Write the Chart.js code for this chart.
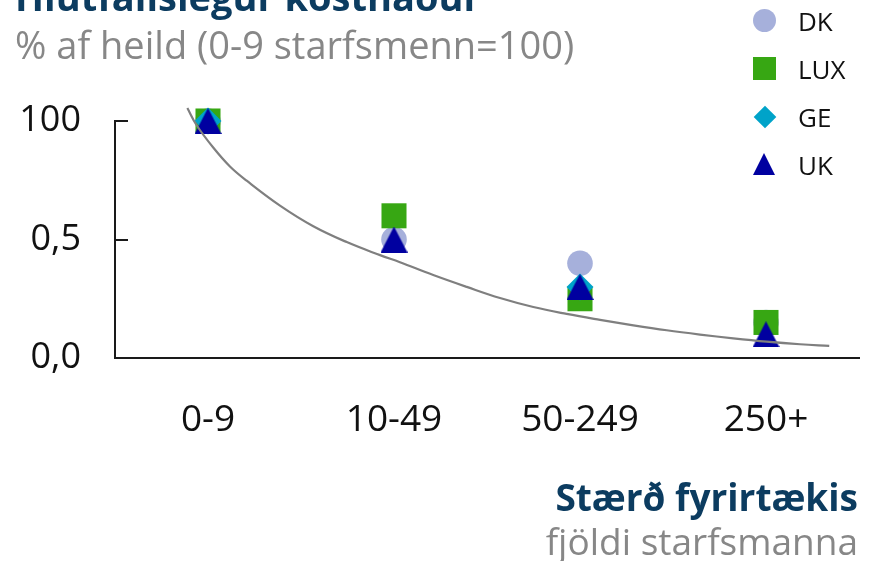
<!DOCTYPE html>
<html>
<head>
<meta charset="utf-8">
<script src="https://cdn.jsdelivr.net/npm/chart.js@4.4.1/dist/chart.umd.min.js"></script>
<style>
  body { margin: 0; background: #fff; font-family: "Open Sans", sans-serif; }
  #page { position: relative; width: 869px; height: 561px; overflow: hidden; }
  #page canvas { position: absolute; left: 0; top: 0; }
  .txt { position: absolute; white-space: nowrap; line-height: 1; }
  .title { font-weight: 700; color: #0c3c60; }
  .sub { color: #878787; }
  .legend-item { position: absolute; left: 740px; height: 30px; width: 120px; }
  .legend-item span { position: absolute; left: 58px; top: 0; font-size: 26px; color: #111; line-height: 1; }
</style>
</head>
<body>
<div id="page">
  <canvas id="chart" width="869" height="561"></canvas>
  <div class="txt title" style="left:15px; top:-23px; font-size:38px;">Hlutfallslegur kostnaður</div>
  <div class="txt sub" style="left:15px; top:25px; font-size:38px;">% af heild (0-9 starfsmenn=100)</div>
  <div class="txt title" style="right:11px; top:478px; font-size:37px;">Stærð fyrirtækis</div>
  <div class="txt sub" style="right:11px; top:522px; font-size:37px;">fjöldi starfsmanna</div>
  <div id="legend"></div>
</div>
<script>
const categories = ['0-9', '10-49', '50-249', '250+'];
const seriesNames = ['DK', 'LUX', 'GE', 'UK'];
const dkValues = [1.0, 0.5, 0.4, 0.15];
const luxValues = [1.0, 0.6, 0.25, 0.15];
const geValues = [1.0, null, 0.3, null];   // not visible in the picture for 10-49 and 250+
const ukValues = [1.0, 0.5, 0.3, 0.1];
const yTickValues = [0, 0.5, 1];
const yTickLabels = ['0,0', '0,5', '100'];
// grey trend line (x: 1 = 0-9 ... 4 = 250+)
const trendX = [0.889, 0.939, 1.028, 1.118, 1.208, 1.387, 1.566, 1.746, 1.925, 2.032, 2.211, 2.391, 2.570, 2.749, 2.928, 3.108, 3.287, 3.466, 3.645, 3.824, 4.004, 4.183, 4.340];
const trendY = [1.055, 0.982, 0.888, 0.808, 0.748, 0.643, 0.556, 0.489, 0.434, 0.404, 0.350, 0.300, 0.253, 0.215, 0.186, 0.161, 0.138, 0.117, 0.099, 0.083, 0.069, 0.058, 0.051];

const colors = { DK: '#a6b0db', LUX: '#37a713', GE: '#00a3c9', UK: '#0000a0' };

function triangle(w, h, color) {
    const c = document.createElement('canvas');
    c.width = w; c.height = h;
    const g = c.getContext('2d');
    g.fillStyle = color;
    g.beginPath();
    g.moveTo(w / 2, 0);
    g.lineTo(w, h);
    g.lineTo(0, h);
    g.closePath();
    g.fill();
    return c;
}

function points(values) {
    return values.map((v, i) => ({ x: i + 1, y: v }));
}

// y axis tick marks point into the plot
const innerTicks = {
    id: 'innerTicks',
    afterDraw(chart) {
        const { ctx, chartArea, scales } = chart;
        ctx.save();
        ctx.strokeStyle = '#1a1a1a';
        ctx.lineWidth = 2;
        scales.y.ticks.forEach(t => {
            const py = Math.round(scales.y.getPixelForValue(t.value));
            ctx.beginPath();
            ctx.moveTo(chartArea.left, py);
            ctx.lineTo(chartArea.left + 13, py);
            ctx.stroke();
        });
        ctx.restore();
    }
};

const ctx = document.getElementById('chart').getContext('2d');
const chart = new Chart(ctx, {
    type: 'scatter',
    data: {
        datasets: [
            {
                type: 'line',
                label: 'trend',
                data: trendX.map((x, i) => ({ x: x, y: trendY[i] })),
                borderColor: '#7f7f7f',
                borderWidth: 2.2,
                pointRadius: 0,
                tension: 0.4,
                clip: false,
                order: 0
            },
            {
                label: 'UK',
                data: points(ukValues),
                pointStyle: triangle(27, 26, colors.UK),
                backgroundColor: colors.UK,
                clip: false,
                order: 1
            },
            {
                label: 'GE',
                data: points(geValues),
                pointStyle: 'rectRot',
                pointRadius: 13.5,
                backgroundColor: colors.GE,
                borderWidth: 0,
                clip: false,
                order: 2
            },
            {
                label: 'LUX',
                data: points(luxValues),
                pointStyle: 'rect',
                pointRadius: 17.7,
                backgroundColor: colors.LUX,
                borderWidth: 0,
                clip: false,
                order: 3
            },
            {
                label: 'DK',
                data: points(dkValues),
                pointStyle: 'circle',
                pointRadius: 12.8,
                backgroundColor: colors.DK,
                borderWidth: 0,
                clip: false,
                order: 4
            }
        ]
    },
    options: {
        responsive: false,
        animation: false,
        layout: { autoPadding: false, padding: { left: 0, top: 121, right: 10, bottom: 103 } },
        plugins: {
            legend: { display: false },
            tooltip: { enabled: false }
        },
        scales: {
            x: {
                type: 'linear',
                min: 0.5,
                max: 4.5,
                afterBuildTicks: s => { s.ticks = categories.map((c, i) => ({ value: i + 1 })); },
                afterFit: s => { s.height = 100; s.paddingLeft = 0; s.paddingRight = 0; },
                ticks: {
                    callback: v => categories[v - 1],
                    font: { family: 'Open Sans', size: 37 },
                    color: '#111',
                    padding: 40,
                    maxRotation: 0
                },
                grid: { display: false, drawTicks: false },
                border: { display: true, color: '#1a1a1a', width: 2 }
            },
            y: {
                min: 0,
                max: 1,
                afterBuildTicks: s => { s.ticks = yTickValues.map(v => ({ value: v })); },
                afterFit: s => { s.width = 115; },
                ticks: {
                    callback: (v, i) => yTickLabels[i],
                    font: { family: 'Open Sans', size: 36 },
                    color: '#111',
                    padding: 34
                },
                grid: { display: false, drawTicks: false },
                border: { display: true, color: '#1a1a1a', width: 2 }
            }
        }
    },
    plugins: [innerTicks]
});

// legend at top right
const legendY = [20, 68, 116, 164];
const legend = document.getElementById('legend');
seriesNames.forEach((name, i) => {
    const item = document.createElement('div');
    item.className = 'legend-item';
    item.style.top = (legendY[i] - 15) + 'px';
    const mark = document.createElement('div');
    mark.style.position = 'absolute';
    mark.style.background = colors[name];
    if (name === 'DK') {
        Object.assign(mark.style, { left: '13px', top: '4px', width: '23px', height: '23px', borderRadius: '50%' });
    } else if (name === 'LUX') {
        Object.assign(mark.style, { left: '13px', top: '4px', width: '23px', height: '23px' });
    } else if (name === 'GE') {
        Object.assign(mark.style, { left: '16.5px', top: '7.5px', width: '16px', height: '16px', transform: 'rotate(45deg)' });
    } else {
        mark.style.background = 'none';
        Object.assign(mark.style, { left: '13px', top: '4px', width: '0', height: '0',
            borderLeft: '11.5px solid transparent', borderRight: '11.5px solid transparent',
            borderBottom: '22px solid ' + colors[name] });
    }
    const label = document.createElement('span');
    label.textContent = name;
    label.style.top = '3px';
    item.appendChild(mark);
    item.appendChild(label);
    legend.appendChild(item);
});
</script>
</body>
</html>
